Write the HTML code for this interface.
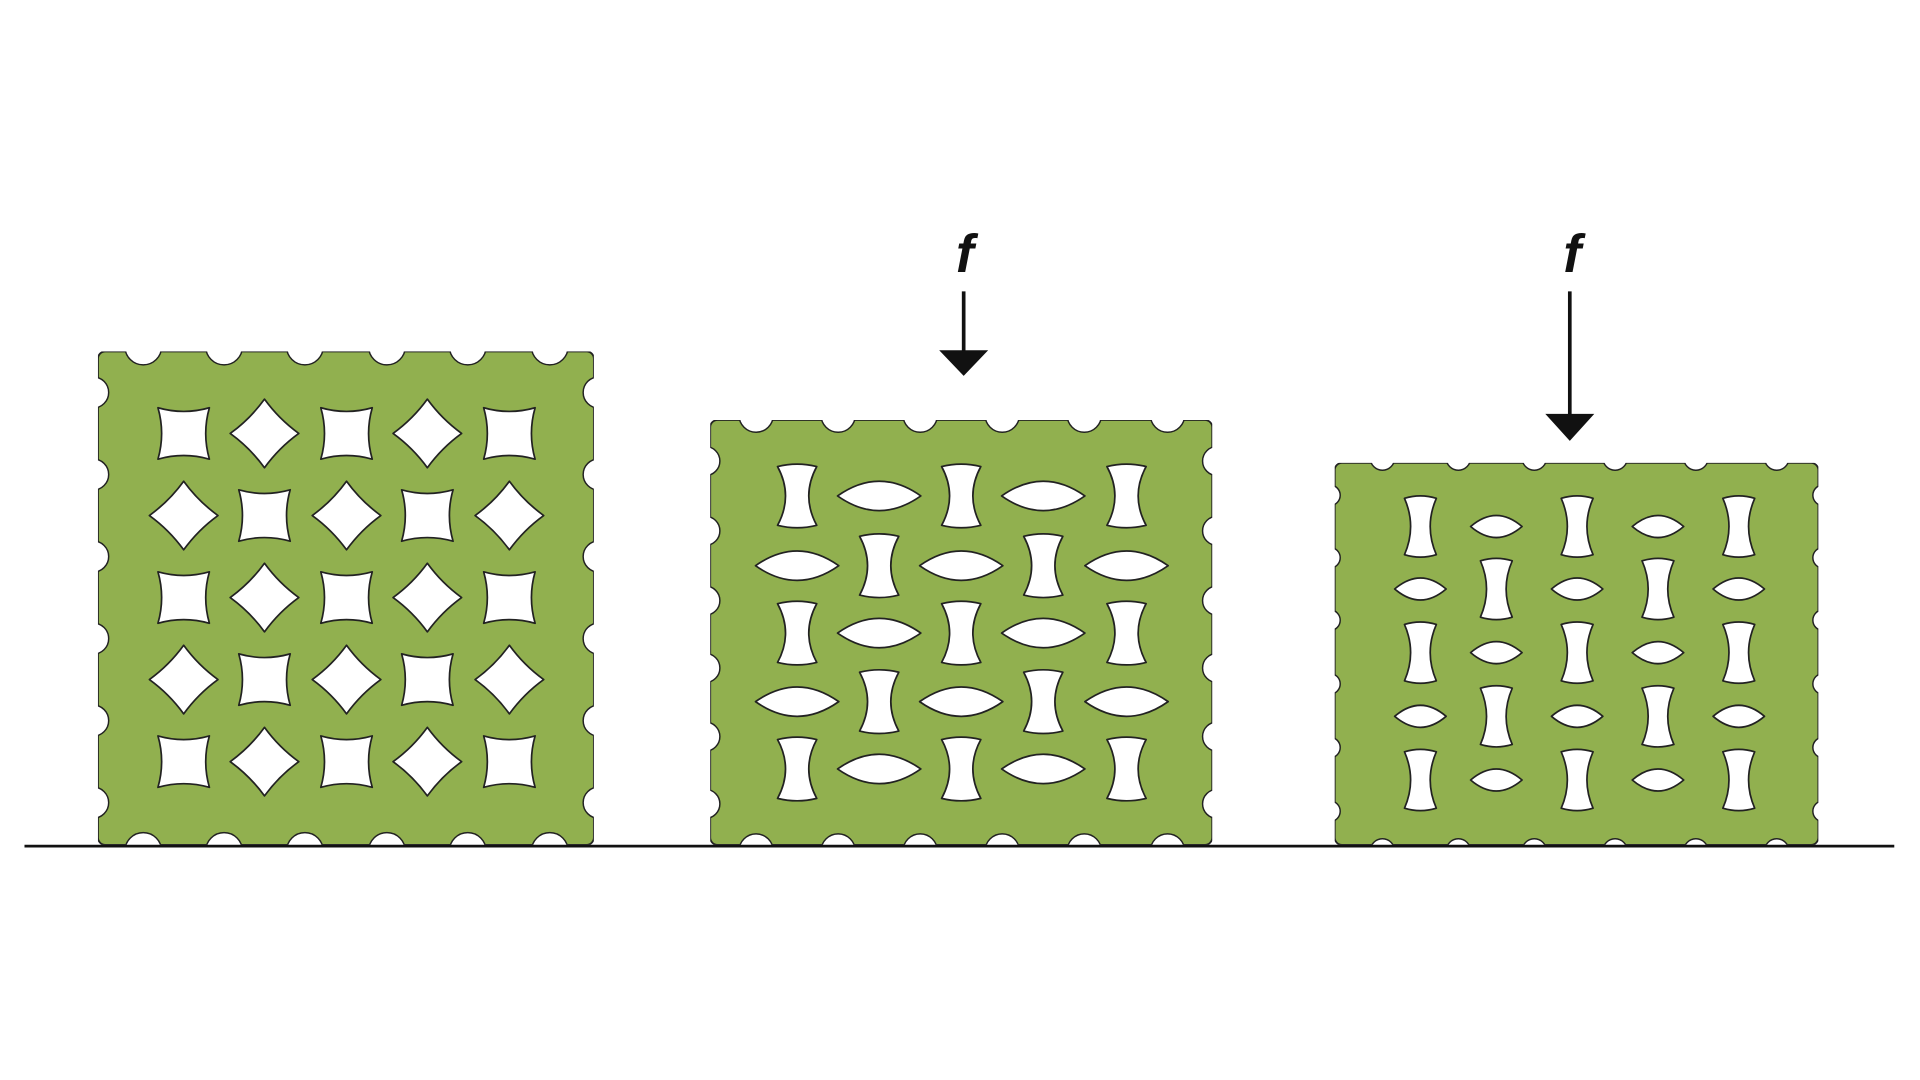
<!DOCTYPE html>
<html><head><meta charset="utf-8"><style>
html,body{margin:0;padding:0;background:#fff;width:1920px;height:1080px;overflow:hidden}
svg{display:block}
</style></head><body>
<svg id="fig" width="1920" height="1080" viewBox="0 0 1568 882" xmlns="http://www.w3.org/2000/svg">
<g id="blocks"></g>
<line x1="20" y1="691" x2="1547" y2="691" stroke="#111" stroke-width="2.2"/>
<g>
<text x="788" y="222" font-family="Liberation Sans, sans-serif" font-weight="bold" font-style="italic" font-size="44" text-anchor="middle" fill="#111">f</text>
<line x1="787" y1="238" x2="787" y2="288" stroke="#111" stroke-width="3"/>
<polygon points="767,286 807,286 787,307" fill="#111"/>
</g>
<g>
<text x="1284" y="222" font-family="Liberation Sans, sans-serif" font-weight="bold" font-style="italic" font-size="44" text-anchor="middle" fill="#111">f</text>
<line x1="1282" y1="238" x2="1282" y2="340" stroke="#111" stroke-width="3"/>
<polygon points="1262,338 1302,338 1282,360" fill="#111"/>
</g>
</svg>
<script>
const blockNames=['uncompressed-lattice','half-compressed-lattice','fully-compressed-lattice'];
const blockX=[[80,485],[580,990],[1090,1485]];
const blockY=[[287,690],[343,690],[378,690]];
const colsX=[[150,216,283,349,416],[651,718,785,852,920],[1160,1222,1288,1354,1420]];
const rowsY=[[354,421,488,555,622],[405,462,517,573,628],[430,481,533,585,637]];
const NS='http://www.w3.org/2000/svg';
const G='#91b04f';
const root=document.getElementById('blocks');
function mk(t,a){const e=document.createElementNS(NS,t);for(const k in a)e.setAttribute(k,a[k]);return e;}
function sq(cx,cy,s){return `M${cx-s},${cy-s} Q${cx},${cy-s+6} ${cx+s},${cy-s} Q${cx+s-6},${cy} ${cx+s},${cy+s} Q${cx},${cy+s-6} ${cx-s},${cy+s} Q${cx-s+6},${cy} ${cx-s},${cy-s}Z`;}
function dia(cx,cy,s){const c=s*0.42;return `M${cx},${cy-s} Q${cx+c},${cy-c} ${cx+s},${cy} Q${cx+c},${cy+c} ${cx},${cy+s} Q${cx-c},${cy+c} ${cx-s},${cy} Q${cx-c},${cy-c} ${cx},${cy-s}Z`;}
function hg(cx,cy,w,h){return `M${cx-w/2},${cy-h/2} Q${cx},${cy-h/2-4} ${cx+w/2},${cy-h/2} Q${cx+3},${cy} ${cx+w/2},${cy+h/2} Q${cx},${cy+h/2+4} ${cx-w/2},${cy+h/2} Q${cx-3},${cy} ${cx-w/2},${cy-h/2}Z`;}
function lens(cx,cy,w,h){return `M${cx-w/2},${cy} Q${cx},${cy-h} ${cx+w/2},${cy} Q${cx},${cy+h} ${cx-w/2},${cy}Z`;}
for(let b=0;b<3;b++){
  const g=mk('g',{});
  
  
  const [x0,x1]=blockX[b],[y0,y1]=blockY[b];
  const body=mk('rect',{x:x0,y:y0,width:x1-x0,height:y1-y0,rx:6,fill:G,stroke:'#222','stroke-width':1.5});
  
  
  g.appendChild(body);
  const cx=colsX[b],ry=rowsY[b];
  const dx=cx[1]-cx[0],dy=ry[1]-ry[0];
  const nr=b==0?15:(b==1?14:10);
  for(let i=0;i<cx.length+1;i++){
    const x=(i==0?cx[0]-dx/2:cx[i-1]+dx/2);
    g.appendChild(mk('circle',{cx:x,cy:y0-4,r:nr,fill:'#fff',stroke:'#222','stroke-width':1.2}));
    g.appendChild(mk('circle',{cx:x,cy:y1+5,r:nr,fill:'#fff',stroke:'#222','stroke-width':1.2}));
  }
  for(let j=0;j<ry.length+1;j++){
    const y=(j==0?ry[0]-dy/2:ry[j-1]+dy/2);
    g.appendChild(mk('circle',{cx:x0-4,cy:y,r:nr*0.85,fill:'#fff',stroke:'#222','stroke-width':1.2}));
    g.appendChild(mk('circle',{cx:x1+4,cy:y,r:nr*0.85,fill:'#fff',stroke:'#222','stroke-width':1.2}));
  }
  // mask the outer halves of notch strokes
  g.appendChild(mk('rect',{x:x0-30,y:y0-30,width:x1-x0+60,height:30,fill:'#fff'}));
  g.appendChild(mk('rect',{x:x0-30,y:y1,width:x1-x0+60,height:30,fill:'#fff'}));
  g.appendChild(mk('rect',{x:x0-30,y:y0-30,width:30,height:y1-y0+60,fill:'#fff'}));
  g.appendChild(mk('rect',{x:x1,y:y0-30,width:30,height:y1-y0+60,fill:'#fff'}));
  for(let j=0;j<ry.length;j++)for(let i=0;i<cx.length;i++){
    let d;
    const even=(i+j)%2==0;
    if(b==0) d=even?sq(cx[i],ry[j],21):dia(cx[i],ry[j],28);
    else if(b==1) d=even?hg(cx[i],ry[j],32,48):lens(cx[i],ry[j],68,24);
    else d=even?hg(cx[i],ry[j],26,46):lens(cx[i],ry[j],42,18);
    const p=mk('path',{d:d,fill:'#fff',stroke:'#222','stroke-width':1.4,'stroke-linejoin':'round'});
    
    
    g.appendChild(p);
  }
  root.appendChild(g);
}
</script>
</body></html>
